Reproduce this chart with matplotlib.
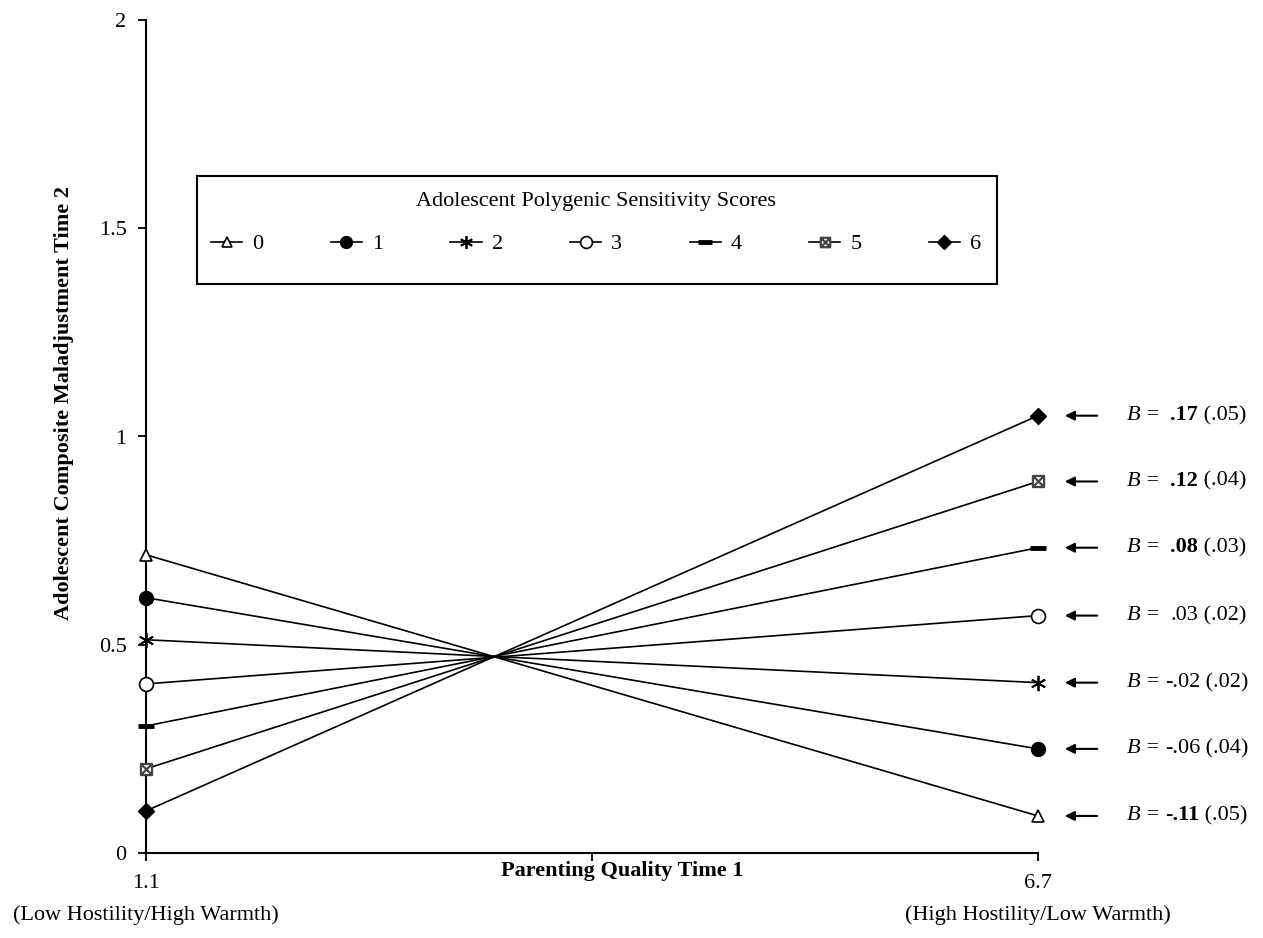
import matplotlib
matplotlib.use("Agg")
import matplotlib.pyplot as plt
from matplotlib.path import Path
from matplotlib.patches import Rectangle

plt.rcParams['font.family'] = ['Liberation Serif', 'DejaVu Serif']

# ---- data ----
x_points = [1.1, 6.7]
x_tick_values = [1.1, 3.9, 6.7]
x_tick_labels = ["1.1", "", "6.7"]
y_ticks = [0, 0.5, 1, 1.5, 2]
y_tick_labels = ["0", "0.5", "1", "1.5", "2"]
scores = ["0", "1", "2", "3", "4", "5", "6"]
left_values = [0.716, 0.613, 0.512, 0.406, 0.305, 0.202, 0.101]
right_values = [0.089, 0.250, 0.409, 0.570, 0.733, 0.892, 1.050]
b_values = ["-.11", "-.06", "-.02", ".03", ".08", ".12", ".17"]
b_se = ["(.05)", "(.04)", "(.02)", "(.02)", "(.03)", "(.04)", "(.05)"]
b_bold = [True, False, False, False, True, True, True]

boxed_x = Path([(-1, -1), (1, -1), (1, 1), (-1, 1), (-1, -1),
                (-1, -1), (1, 1), (-1, 1), (1, -1)],
               [Path.MOVETO, Path.LINETO, Path.LINETO, Path.LINETO, Path.CLOSEPOLY,
                Path.MOVETO, Path.LINETO, Path.MOVETO, Path.LINETO])

markers = ['^', 'o', (6, 2, 0), 'o', '_', boxed_x, 'D']
mfc = ['white', 'black', 'black', 'white', 'black', 'white', 'black']
mec = ['black', 'black', 'black', 'black', 'black', '#444444', 'black']
msizes = [9, 10, 11, 10, 12, 8, 8]
mews = [1.2, 1.0, 1.3, 1.2, 3.5, 1.6, 1.0]

FS = 16

fig = plt.figure(figsize=(12.63, 9.38), dpi=100)
ax = fig.add_axes([146/1263, 1-853/938, (1038-146)/1263, (853-20)/938])

handles = []
for i in range(len(scores)):
    ln, = ax.plot(x_points, [left_values[i], right_values[i]], color='black', lw=1.2,
                  marker=markers[i], markersize=msizes[i], markerfacecolor=mfc[i],
                  markeredgecolor=mec[i], markeredgewidth=mews[i], clip_on=False,
                  zorder=3, label=scores[i])
    handles.append(ln)

ax.set_xlim(1.1, 6.7)
ax.set_ylim(0, 2)
ax.spines['top'].set_visible(False)
ax.spines['right'].set_visible(False)
ax.spines['left'].set_linewidth(1.5)
ax.spines['bottom'].set_linewidth(1.5)
ax.set_xticks(x_tick_values)
ax.set_xticklabels(x_tick_labels, fontsize=FS)
ax.set_yticks(y_ticks)
ax.set_yticklabels(y_tick_labels, fontsize=FS)
ax.tick_params(axis='both', direction='out', length=6, width=1.3, colors='black')
ax.tick_params(axis='x', pad=9)
ax.tick_params(axis='y', pad=8)

# axis titles
fig.text(622/1263, 1-871/938, "Parenting Quality Time 1", ha='center', va='center',
         fontsize=FS, fontweight='bold')
fig.text(64/1263, 1-403/938, "Adolescent Composite Maladjustment Time 2", ha='center',
         va='center', rotation=90, fontsize=FS, fontweight='bold')
fig.text(146/1263, 1-915/938, "(Low Hostility/High Warmth)", ha='center', va='center', fontsize=FS)
fig.text(1038/1263, 1-915/938, "(High Hostility/Low Warmth)", ha='center', va='center', fontsize=FS)

# legend (frame drawn separately)
trans = ax.get_yaxis_transform()
bx0, bx1 = 0.0572, 0.954
by_top, by_bot = 1.6255, 1.366
ax.add_patch(Rectangle((bx0, by_bot), bx1 - bx0, by_top - by_bot, transform=trans,
                       fill=False, edgecolor='black', lw=1.5, clip_on=False, zorder=4))
leg = ax.legend(handles=handles, ncol=7, loc='upper left',
                bbox_to_anchor=(bx0 - 0.002, by_top, bx1 - bx0 + 0.002, 0),
                bbox_transform=trans, mode='expand', borderaxespad=0,
                title="Adolescent Polygenic Sensitivity Scores", title_fontsize=FS,
                fontsize=FS, frameon=False,
                handlelength=1.4, handletextpad=0.45, borderpad=0.72,
                markerscale=0.85)
leg._legend_box.sep = 16.5

# arrows and B annotations
for i in range(len(scores)):
    y = right_values[i]
    ax.annotate('', xy=(1.027, y), xycoords=trans, xytext=(1.0695, y), textcoords=trans,
                arrowprops=dict(arrowstyle='-|>', color='black', lw=1.5, mutation_scale=14),
                annotation_clip=False)
    t1 = ax.text(1.1, y, "B", transform=trans, fontsize=FS, style='italic',
                 va='center', ha='left', clip_on=False)
    eq = " = " if b_values[i].startswith('-') else " =  "
    t2 = ax.annotate(eq, xy=(1, 0), xycoords=t1, va='bottom', ha='left', fontsize=FS)
    t3 = ax.annotate(b_values[i], xy=(1, 0), xycoords=t2, va='bottom', ha='left',
                     fontsize=FS, fontweight='bold' if b_bold[i] else 'normal')
    ax.annotate(" " + b_se[i], xy=(1, 0), xycoords=t3, va='bottom', ha='left', fontsize=FS)

fig.savefig("out.png", dpi=100, facecolor='white')
